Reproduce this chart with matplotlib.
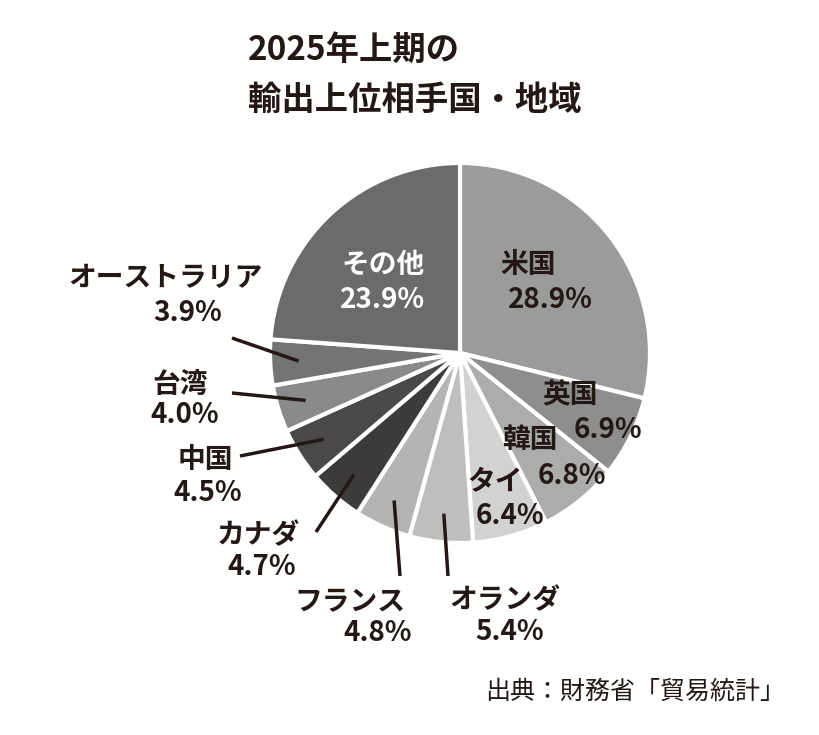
import numpy as np
import matplotlib
matplotlib.use("Agg")
import matplotlib.pyplot as plt

font = "Noto Sans CJK JP"
categories = ["米国", "英国", "韓国", "タイ", "オランダ", "フランス", "カナダ", "中国", "台湾", "オーストラリア", "その他"]
values = [28.9, 6.9, 6.8, 6.4, 5.4, 4.8, 4.7, 4.5, 4.0, 3.9, 23.9]
colors = ["#9b9b9b", "#8e8e8e", "#acacac", "#d2d2d2", "#bebebe", "#b4b4b4",
          "#3c3a3a", "#4a4848", "#8a8a8a", "#747474", "#6b6b6b"]

fig = plt.figure(figsize=(8.2, 7.35), dpi=100)
ax = fig.add_axes([0, 0, 1, 1])

cx, cy, R = 460, 353, 190
wedges, _ = ax.pie(values, colors=colors, startangle=-90, counterclock=True,
                   center=(cx, cy), radius=R, frame=True,
                   wedgeprops=dict(edgecolor="white", linewidth=3))
ax.set_xlim(0, 820); ax.set_ylim(735, 0); ax.set_aspect("equal"); ax.axis("off")

kw = dict(fontfamily=font, fontsize=20, fontweight="bold", ha="center", va="center", color="#231815")
def lab(name, val, x1, y1, x2, y2, color="#231815"):
    ax.text(x1, y1, name, **{**kw, "color": color})
    ax.text(x2, y2, f"{val}%", **{**kw, "color": color})

lab("その他", 23.9, 383, 265, 383, 300, "white")
lab("米国", 28.9, 528, 265, 550, 300)
lab("英国", 6.9, 570, 395, 608, 430)
lab("韓国", 6.8, 530, 440, 572, 476)
lab("タイ", 6.4, 495, 482, 510, 516)
lab("オランダ", 5.4, 505, 600, 510, 632)
lab("フランス", 4.8, 350, 602, 378, 633)
lab("カナダ", 4.7, 258, 535, 262, 567)
lab("中国", 4.5, 205, 460, 208, 493)
lab("台湾", 4.0, 180, 385, 185, 415)
lab("オーストラリア", 3.9, 165, 278, 188, 313)

def mid_pt(i, frac):
    w = wedges[i]
    a = np.deg2rad((w.theta1 + w.theta2) / 2)
    return cx + R * frac * np.cos(a), cy + R * frac * np.sin(a)
leaders = {9: (232, 338), 8: (232, 393), 7: (240, 456), 6: (316, 532), 5: (400, 576), 4: (448, 576)}
for i, (lx, ly) in leaders.items():
    px, py = mid_pt(i, 0.85)
    ax.plot([lx, px], [ly, py], color="#231815", lw=2.5, solid_capstyle="butt")

ax.text(248, 50, "2025年上期の", fontfamily=font, fontsize=24, fontweight="bold", ha="left", va="center", color="#231815")
ax.text(248, 100, "輸出上位相手国・地域", fontfamily=font, fontsize=24, fontweight="bold", ha="left", va="center", color="#231815")
ax.text(785, 692, "出典：財務省「貿易統計」", fontfamily=font, fontsize=18, ha="right", va="center", color="#231815")

fig.savefig("out.png", dpi=100, facecolor="white")
